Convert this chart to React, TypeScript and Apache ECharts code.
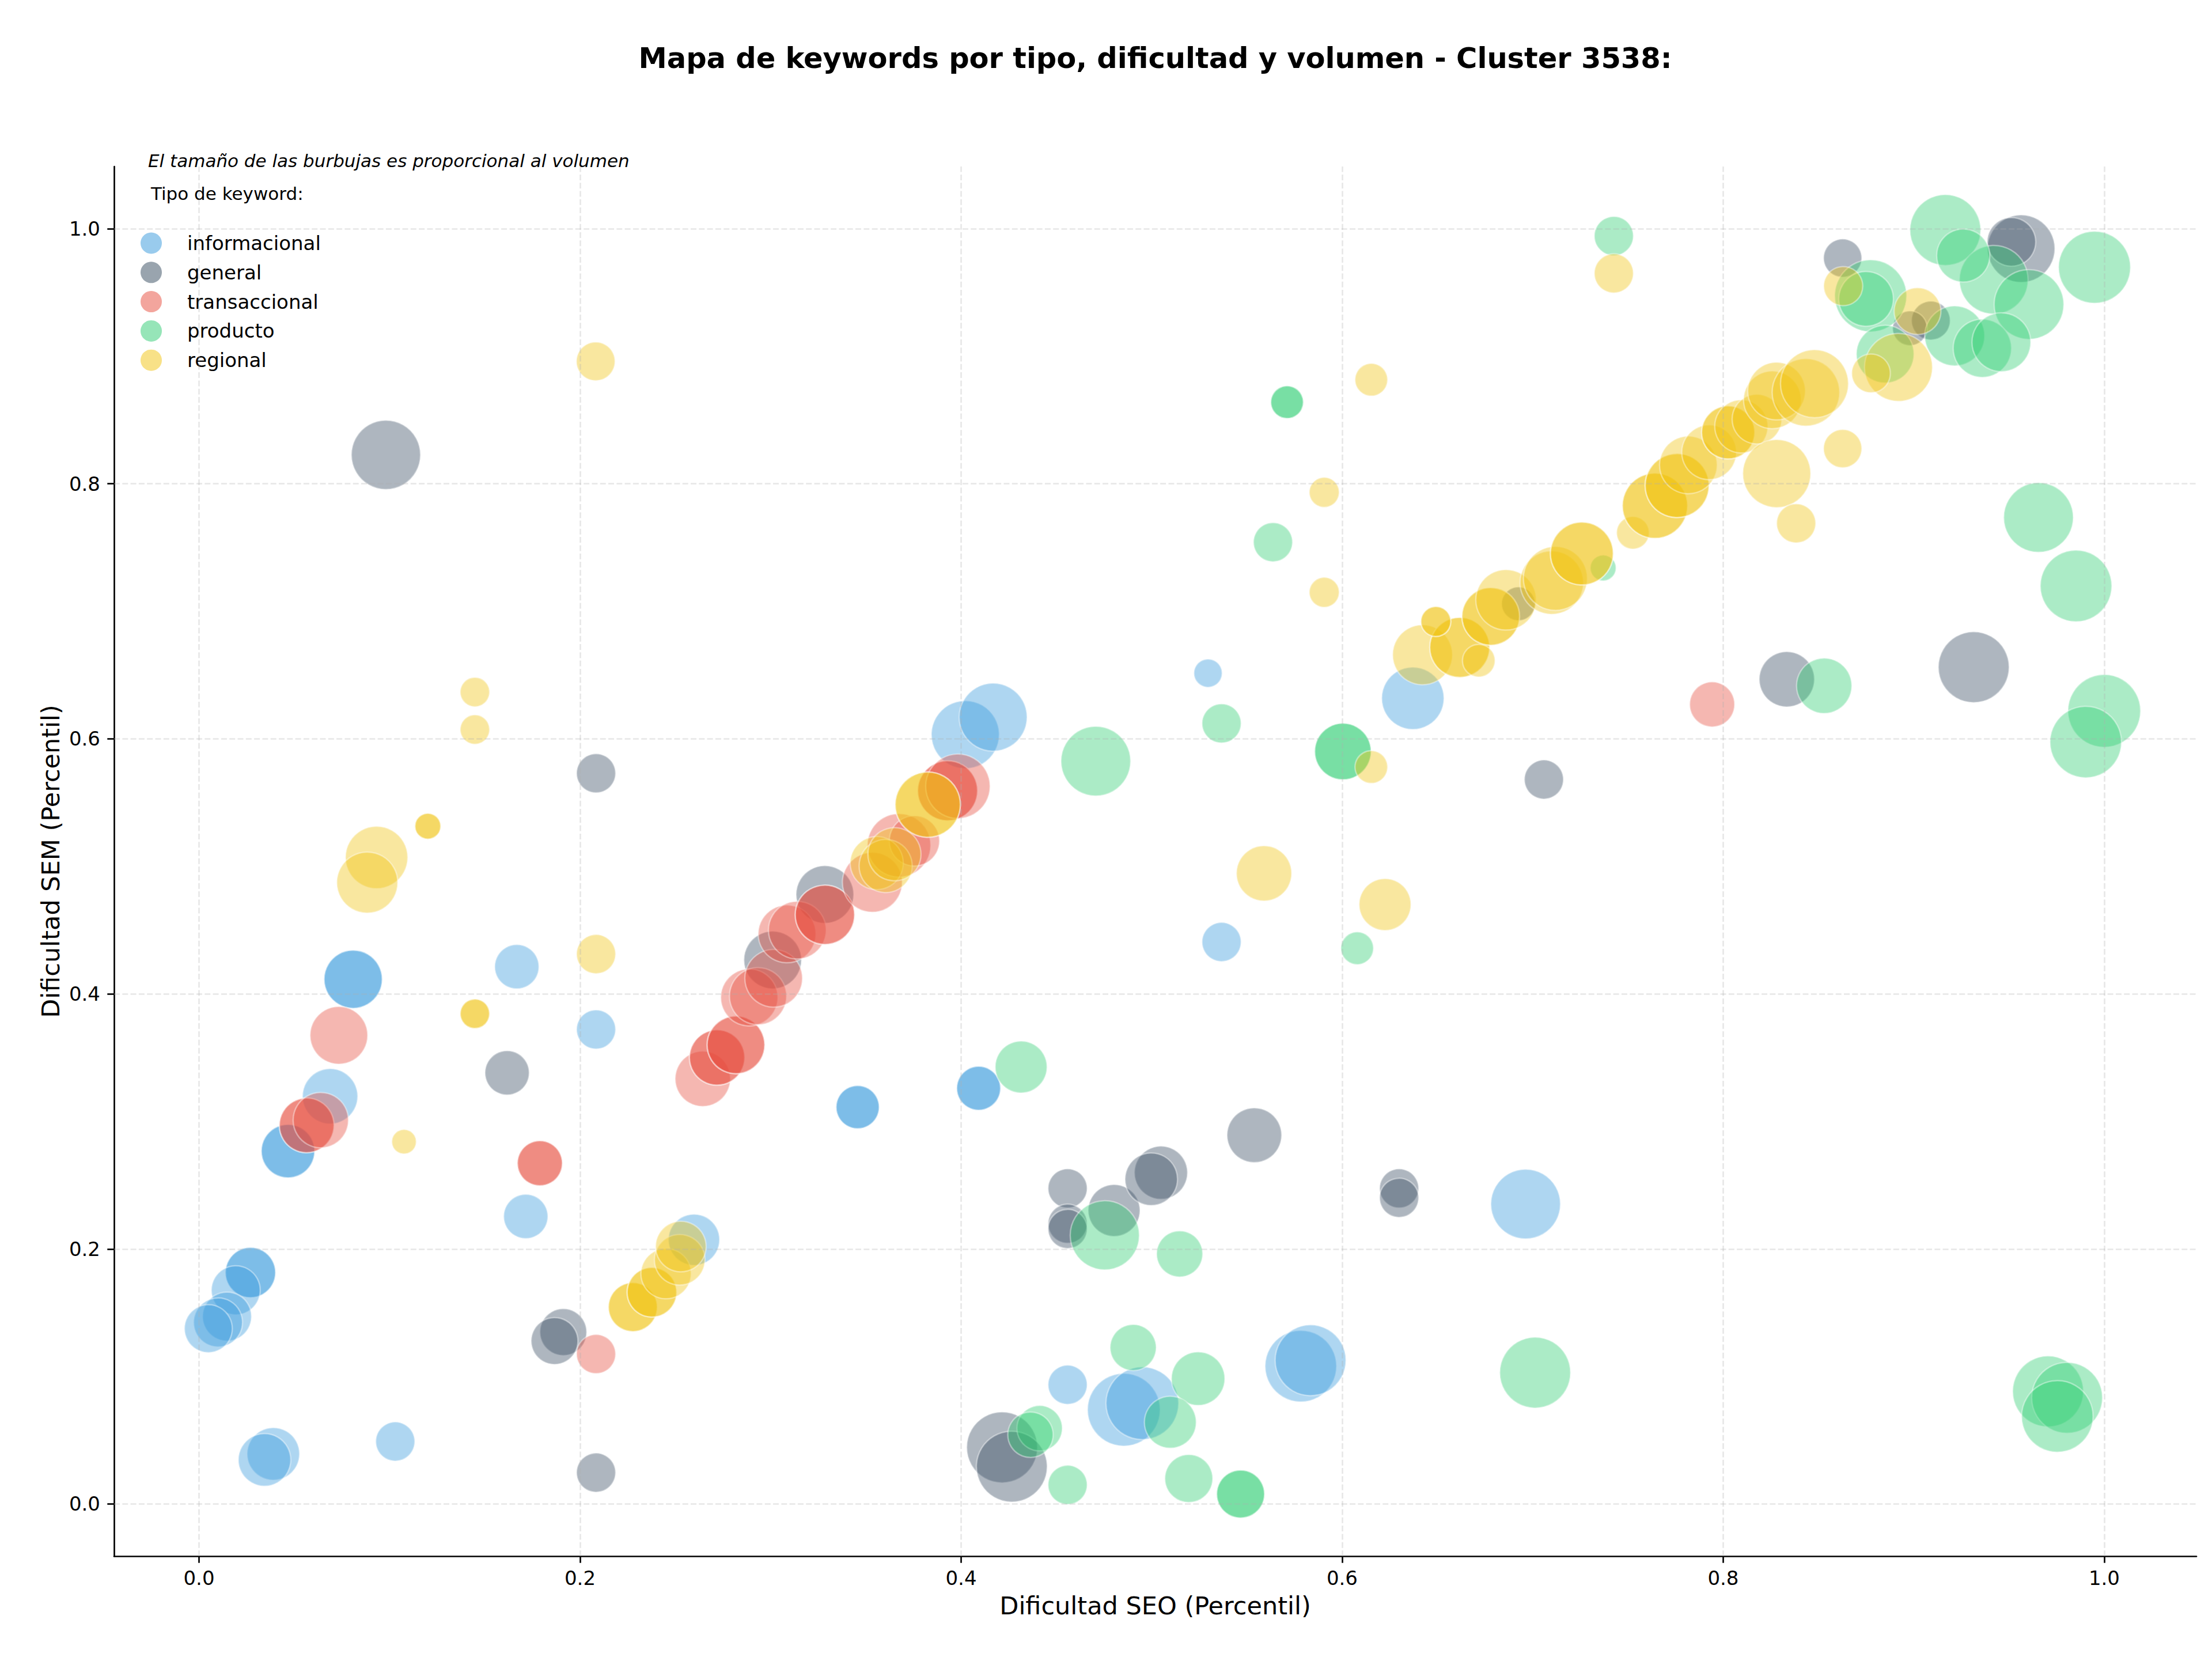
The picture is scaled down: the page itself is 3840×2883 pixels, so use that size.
import React, { useEffect, useRef } from 'react';
import * as echarts from 'echarts';

const categories = ['informacional', 'general', 'transaccional', 'producto', 'regional'];
const colors = [
  'rgba(52,152,219,0.5)',
  'rgba(52,73,94,0.5)',
  'rgba(231,76,60,0.5)',
  'rgba(46,204,113,0.5)',
  'rgba(241,196,15,0.5)',
];
const xTicks = [0, 0.2, 0.4, 0.6, 0.8, 1.0];
const yTicks = [0, 0.2, 0.4, 0.6, 0.8, 1.0];

// [dificultad SEO, dificultad SEM, volumen]
const informacional: number[][] = [
  [0.0809, 0.4115, 102], [0.0809, 0.4115, 102],
  [0.1668, 0.4213, 59], [0.2084, 0.3721, 46], [0.0688, 0.3197, 92],
  [0.0467, 0.2767, 86], [0.0467, 0.2767, 86],
  [0.1715, 0.2255, 59],
  [0.027, 0.1815, 76], [0.027, 0.1815, 76],
  [0.0193, 0.1676, 72], [0.0147, 0.147, 72], [0.01, 0.1424, 72], [0.0049, 0.1375, 69],
  [0.039, 0.0393, 83], [0.0344, 0.0346, 83], [0.103, 0.049, 46], [0.2598, 0.2072, 79],
  [0.4022, 0.6033, 139], [0.4168, 0.617, 139],
  [0.3457, 0.3112, 56], [0.3457, 0.3112, 56],
  [0.4092, 0.326, 58], [0.4092, 0.326, 58],
  [0.5296, 0.6515, 24], [0.5367, 0.4407, 46], [0.6371, 0.6318, 117],
  [0.4559, 0.0935, 46], [0.4854, 0.0739, 159], [0.4951, 0.079, 159],
  [0.5783, 0.1081, 154], [0.5834, 0.1127, 151], [0.6963, 0.2352, 146],
];

const general: number[][] = [
  [0.0981, 0.8227, 144], [0.2084, 0.573, 46], [0.1617, 0.3381, 59],
  [0.1912, 0.1348, 66], [0.1866, 0.1278, 66], [0.2084, 0.0246, 46],
  [0.3011, 0.4266, 100], [0.3285, 0.478, 100],
  [0.4215, 0.0444, 151], [0.4266, 0.0293, 151],
  [0.4559, 0.2475, 46], [0.4559, 0.2198, 46], [0.4559, 0.2157, 46],
  [0.4803, 0.2302, 81], [0.5049, 0.2598, 85], [0.4998, 0.2547, 83],
  [0.5539, 0.2892, 90], [0.6299, 0.2475, 46], [0.6299, 0.2401, 46],
  [0.6925, 0.7059, 34], [0.7059, 0.5681, 46], [0.8334, 0.6467, 92],
  [0.9315, 0.6562, 151], [0.8627, 0.977, 44], [0.9564, 0.9844, 137],
  [0.9513, 0.9897, 71], [0.909, 0.928, 45], [0.898, 0.922, 36],
];

const transaccional: number[][] = [
  [0.0734, 0.3675, 100],
  [0.0565, 0.2969, 90], [0.0565, 0.2969, 90],
  [0.0639, 0.301, 92],
  [0.1789, 0.2672, 61], [0.1789, 0.2672, 61],
  [0.2084, 0.1176, 46],
  [0.2644, 0.3334, 92],
  [0.2719, 0.3501, 92], [0.2719, 0.3501, 92],
  [0.2818, 0.36, 100], [0.2818, 0.36, 100],
  [0.2888, 0.3972, 98], [0.2934, 0.3982, 98], [0.3016, 0.4122, 100],
  [0.3086, 0.447, 100], [0.314, 0.45, 100],
  [0.3285, 0.462, 106], [0.3285, 0.462, 106],
  [0.3534, 0.4875, 108], [0.3674, 0.5165, 121], [0.3755, 0.52, 76],
  [0.3929, 0.5593, 108], [0.3929, 0.5593, 108],
  [0.3983, 0.5628, 125], [0.7942, 0.627, 61],
];

const producto: number[][] = [
  [0.5711, 0.864, 32], [0.5711, 0.864, 32],
  [0.5637, 0.7542, 46], [0.7426, 0.9943, 46],
  [0.9166, 0.999, 151], [0.9949, 0.9698, 156], [0.8774, 0.9474, 156], [0.875, 0.945, 90],
  [0.942, 0.96, 142], [0.9605, 0.9406, 146], [0.9215, 0.916, 108], [0.936, 0.9063, 102],
  [0.946, 0.911, 104], [0.885, 0.9017, 100], [0.926, 0.979, 85],
  [0.737, 0.734, 20], [0.9655, 0.7736, 146], [0.9852, 0.7199, 154],
  [0.5367, 0.6121, 46], [0.4707, 0.5825, 146],
  [0.6004, 0.5901, 96], [0.6004, 0.5901, 96],
  [0.6079, 0.4358, 32], [0.4315, 0.3427, 81], [0.853, 0.6416, 92],
  [1.0, 0.6219, 159], [0.9903, 0.5975, 154],
  [0.4754, 0.2107, 144], [0.5147, 0.1961, 64], [0.4903, 0.1227, 64],
  [0.5244, 0.0983, 86], [0.5098, 0.0641, 81], [0.4412, 0.0594, 62], [0.4364, 0.0543, 62],
  [0.4559, 0.015, 46], [0.5195, 0.02, 69],
  [0.5467, 0.0078, 69], [0.5467, 0.0078, 69],
  [0.7013, 0.103, 151], [0.9705, 0.0883, 151], [0.9805, 0.0833, 151], [0.9754, 0.0687, 154],
];

const regional: number[][] = [
  [0.2082, 0.896, 45], [0.6153, 0.8816, 32], [0.5906, 0.7933, 27], [0.5906, 0.7149, 27],
  [0.7426, 0.965, 46], [0.1448, 0.6367, 26], [0.1448, 0.6073, 26],
  [0.1201, 0.5315, 20], [0.1201, 0.5315, 20],
  [0.0932, 0.507, 117], [0.0883, 0.4873, 112], [0.2084, 0.4312, 46],
  [0.1448, 0.3844, 26], [0.1448, 0.3844, 26],
  [0.1076, 0.2841, 18],
  [0.2277, 0.1544, 72], [0.2277, 0.1544, 72],
  [0.2377, 0.166, 74], [0.2377, 0.166, 74],
  [0.2451, 0.1806, 76], [0.2523, 0.1915, 77], [0.2529, 0.2019, 77],
  [0.3557, 0.5026, 85], [0.3604, 0.5003, 85], [0.365, 0.5095, 85],
  [0.3825, 0.5484, 128], [0.3825, 0.5484, 128],
  [0.559, 0.4945, 92], [0.6225, 0.4701, 81], [0.6153, 0.5779, 32],
  [0.6422, 0.6659, 108],
  [0.6617, 0.6717, 108], [0.6617, 0.6717, 108],
  [0.6717, 0.6613, 32],
  [0.6492, 0.692, 27], [0.6492, 0.692, 27],
  [0.678, 0.696, 100], [0.678, 0.696, 100],
  [0.686, 0.709, 110], [0.71, 0.7225, 121], [0.7119, 0.7258, 123],
  [0.7258, 0.7453, 119], [0.7258, 0.7453, 119],
  [0.7526, 0.7616, 32],
  [0.7642, 0.7828, 128], [0.7642, 0.7828, 128],
  [0.7758, 0.7986, 123], [0.7758, 0.7986, 123],
  [0.7817, 0.8148, 100], [0.7926, 0.8247, 90],
  [0.8026, 0.8403, 85], [0.8026, 0.8403, 85],
  [0.8095, 0.845, 85], [0.8177, 0.8507, 74], [0.8258, 0.8658, 100], [0.828, 0.8727, 100],
  [0.8434, 0.8717, 137], [0.8479, 0.8785, 139], [0.8281, 0.808, 139],
  [0.8383, 0.769, 46], [0.8627, 0.8276, 44], [0.863, 0.955, 46],
  [0.892, 0.8913, 139], [0.8776, 0.8866, 45], [0.902, 0.9354, 66],
];

const seriesData = [informacional, general, transaccional, producto, regional];

const FONT = '"DejaVu Sans", "Liberation Sans", sans-serif';

function tickFmt(v: number) {
  const r = Math.round(v * 5) / 5;
  return Math.abs(v - r) < 1e-6 && r >= -1e-9 && r <= 1 + 1e-9 ? r.toFixed(1) : '';
}

function txt(text: string, x: number, y: number, size: number, extra: any = {}) {
  return {
    type: 'text',
    x,
    y,
    silent: true,
    style: {
      text,
      fill: '#000',
      fontSize: size,
      fontFamily: FONT,
      align: 'left',
      verticalAlign: 'middle',
      textAlign: 'left',
      textVerticalAlign: 'middle',
      ...extra,
    },
  };
}

export default function App() {
  const ref = useRef<HTMLDivElement>(null);
  useEffect(() => {
    document.body.style.margin = '0';
    if (!ref.current) return;
    const chart = echarts.init(ref.current, null, { renderer: 'svg' });
    const gridLine = {
      color: '#b0b0b0',
      opacity: 0.3,
      type: [10, 4.3] as any,
      width: 2.67,
    };
    const series: any[] = [
      {
        type: 'scatter',
        name: '__grid',
        data: [],
        z: 1,
        silent: true,
        markLine: {
          silent: true,
          symbol: ['none', 'none'],
          label: { show: false },
          lineStyle: gridLine,
          emphasis: { disabled: true },
          animation: false,
          data: [
            ...xTicks.map((v) => ({ xAxis: v })),
            ...yTicks.map((v) => ({ yAxis: v })),
          ],
        },
      },
    ];
    categories.forEach((name, i) => {
      series.push({
        type: 'scatter',
        name,
        z: 2,
        data: seriesData[i],
        symbolSize: (val: number[]) => 10 * Math.sqrt(val[2]),
        itemStyle: {
          color: colors[i],
          borderColor: 'rgba(255,255,255,0.5)',
          borderWidth: 2.5,
        },
        emphasis: { disabled: true },
        silent: true,
      });
    });

    const legendGraphics: any[] = [];
    categories.forEach((name, i) => {
      const cy = 422 + i * 50.8;
      legendGraphics.push({
        type: 'circle',
        silent: true,
        shape: { cx: 262.5, cy, r: 18.5 },
        style: { fill: colors[i] },
      });
      legendGraphics.push(txt(name, 325, cy, 34));
    });

    chart.setOption({
      animation: false,
      backgroundColor: '#ffffff',
      grid: { left: 198, top: 289, width: 3615, height: 2412, containLabel: false },
      xAxis: {
        type: 'value',
        min: -0.0446,
        max: 1.0484,
        name: 'Dificultad SEO (Percentil)',
        nameLocation: 'middle',
        nameGap: 64,
        nameTextStyle: { fontSize: 43, color: '#000', fontFamily: FONT },
        axisLine: { show: true, onZero: false, lineStyle: { color: '#000', width: 2.67 } },
        axisTick: {
          show: true,
          length: 11.7,
          lineStyle: { color: '#000', width: 2.67 },
          customValues: xTicks,
        },
        axisLabel: {
          fontSize: 34,
          color: '#000',
          fontFamily: FONT,
          margin: 21,
          customValues: xTicks,
          formatter: tickFmt,
        },
        splitLine: { show: false },
      },
      yAxis: {
        type: 'value',
        min: -0.0409,
        max: 1.0488,
        name: 'Dificultad SEM (Percentil)',
        nameLocation: 'middle',
        nameGap: 88,
        nameTextStyle: { fontSize: 43, color: '#000', fontFamily: FONT },
        axisLine: { show: true, onZero: false, lineStyle: { color: '#000', width: 2.67 } },
        axisTick: {
          show: true,
          length: 11.7,
          lineStyle: { color: '#000', width: 2.67 },
          customValues: yTicks,
        },
        axisLabel: {
          fontSize: 34,
          color: '#000',
          fontFamily: FONT,
          margin: 24,
          customValues: yTicks,
          formatter: tickFmt,
        },
        splitLine: { show: false },
      },
      graphic: [
        txt('Mapa de keywords por tipo, dificultad y volumen - Cluster 3538:', 2005.5, 101, 49.5, {
          fontWeight: 'bold',
          align: 'center',
          textAlign: 'center',
        }),
        txt('El tamaño de las burbujas es proporcional al volumen', 257, 279, 31, { fontStyle: 'italic' }),
        txt('Tipo de keyword:', 262, 336, 31),
        ...legendGraphics,
      ],
      series,
    });
    return () => chart.dispose();
  }, []);
  return <div ref={ref} style={{ width: 3840, height: 2883 }} />;
}
